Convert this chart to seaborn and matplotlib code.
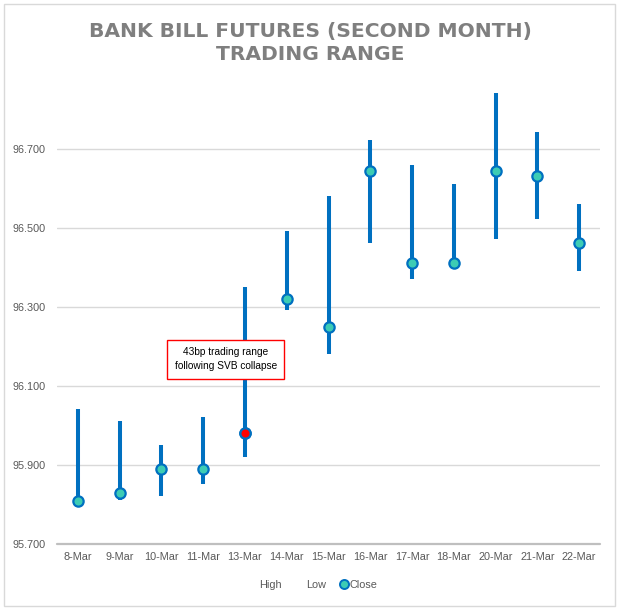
import matplotlib
matplotlib.use("Agg")
import matplotlib.pyplot as plt
from matplotlib.lines import Line2D
from matplotlib.patches import Rectangle
import seaborn as sns
import pandas as pd

dates = ["8-Mar", "9-Mar", "10-Mar", "11-Mar", "13-Mar", "14-Mar", "15-Mar",
         "16-Mar", "17-Mar", "18-Mar", "20-Mar", "21-Mar", "22-Mar"]
high = [96.041, 96.011, 95.951, 96.022, 96.350, 96.492, 96.580,
        96.722, 96.660, 96.611, 96.841, 96.742, 96.560]
low = [95.805, 95.811, 95.822, 95.852, 95.920, 96.292, 96.181,
       96.461, 96.370, 96.410, 96.471, 96.522, 96.391]
close = [95.810, 95.830, 95.890, 95.890, 95.982, 96.321, 96.250,
         96.643, 96.412, 96.412, 96.643, 96.632, 96.461]
yticks = [95.7, 95.9, 96.1, 96.3, 96.5, 96.7]
highlight_date = "13-Mar"
note = "43bp trading range\nfollowing SVB collapse"
title_lines = ["BANK BILL FUTURES (SECOND MONTH)", "TRADING RANGE"]

df = pd.DataFrame({"date": dates, "high": high, "low": low, "close": close})

sns.set_theme(style="white")
plt.rcParams["font.family"] = ["Liberation Sans", "DejaVu Sans"]

BLUE = "#0070C0"
TEAL = "#3DCCB4"
GREY_TXT = "#595959"

fig = plt.figure(figsize=(6.21, 6.15), dpi=100)
ax = fig.add_axes([57 / 621, 1 - 544 / 615, (600 - 57) / 621, (544 - 60) / 615])

ax.set_ylim(95.7, 96.925)
ax.set_yticks(yticks)
for yv in yticks[1:]:
    ax.axhline(yv, color="#D9D9D9", lw=1.0, zorder=0)
ax.axhline(yticks[0], color="#BFBFBF", lw=1.6, zorder=1, clip_on=False)

xpos = list(range(len(dates)))
ax.vlines(xpos, df["low"], df["high"], color=BLUE, lw=2.9, zorder=2)

sns.scatterplot(data=df, x="date", y="close", ax=ax, s=55, color=TEAL,
                edgecolor=BLUE, linewidth=1.6, zorder=3, legend=False)
sub = df[df["date"] == highlight_date]
sns.scatterplot(data=sub, x="date", y="close", ax=ax, s=55, color="#FF0000",
                edgecolor=BLUE, linewidth=1.6, zorder=4, legend=False)

ax.set_xlim(-0.5, len(dates) - 0.5)
ax.set_xticks(xpos)
ax.set_xticklabels(dates)
ax.set_yticklabels([f"{v:.3f}" for v in yticks])
ax.tick_params(axis="both", labelsize=7.8, colors=GREY_TXT, length=0)
ax.tick_params(axis="x", pad=6)
ax.tick_params(axis="y", pad=8)
ax.set_xlabel("")
ax.set_ylabel("")
for s in ax.spines.values():
    s.set_visible(False)

ax.text(3.54, 96.167, note, ha="center", va="center", fontsize=7.3,
        color="#000000", zorder=5, linespacing=1.5,
        bbox=dict(boxstyle="square,pad=0.75", fc="white", ec="#FF0000", lw=1.0))

for line, ybase in zip(title_lines, [37.5, 59.5]):
    fig.text(0.5, 1 - ybase / 615, line, ha="center", va="baseline",
             fontsize=14.6, fontweight="bold", color="#7F7F7F",
             family=["DejaVu Sans"])

handles = [Line2D([], [], linestyle="none"),
           Line2D([], [], linestyle="none"),
           Line2D([], [], linestyle="none", marker="o", markersize=6.5,
                  markerfacecolor=TEAL, markeredgecolor=BLUE, markeredgewidth=1.4)]
fig.legend(handles, ["High", "Low", "Close"], loc="center",
           bbox_to_anchor=(0.505, 1 - 585 / 615), ncol=3, frameon=False,
           fontsize=7.8, handlelength=0.8, handletextpad=0.1, columnspacing=1.3,
           labelcolor=GREY_TXT)

fig.patches.append(Rectangle((4 / 621, 1 - 606 / 615), 611 / 621, 602 / 615,
                             transform=fig.transFigure, fill=False,
                             ec="#D9D9D9", lw=1.0))

fig.savefig("out.png", dpi=100)
